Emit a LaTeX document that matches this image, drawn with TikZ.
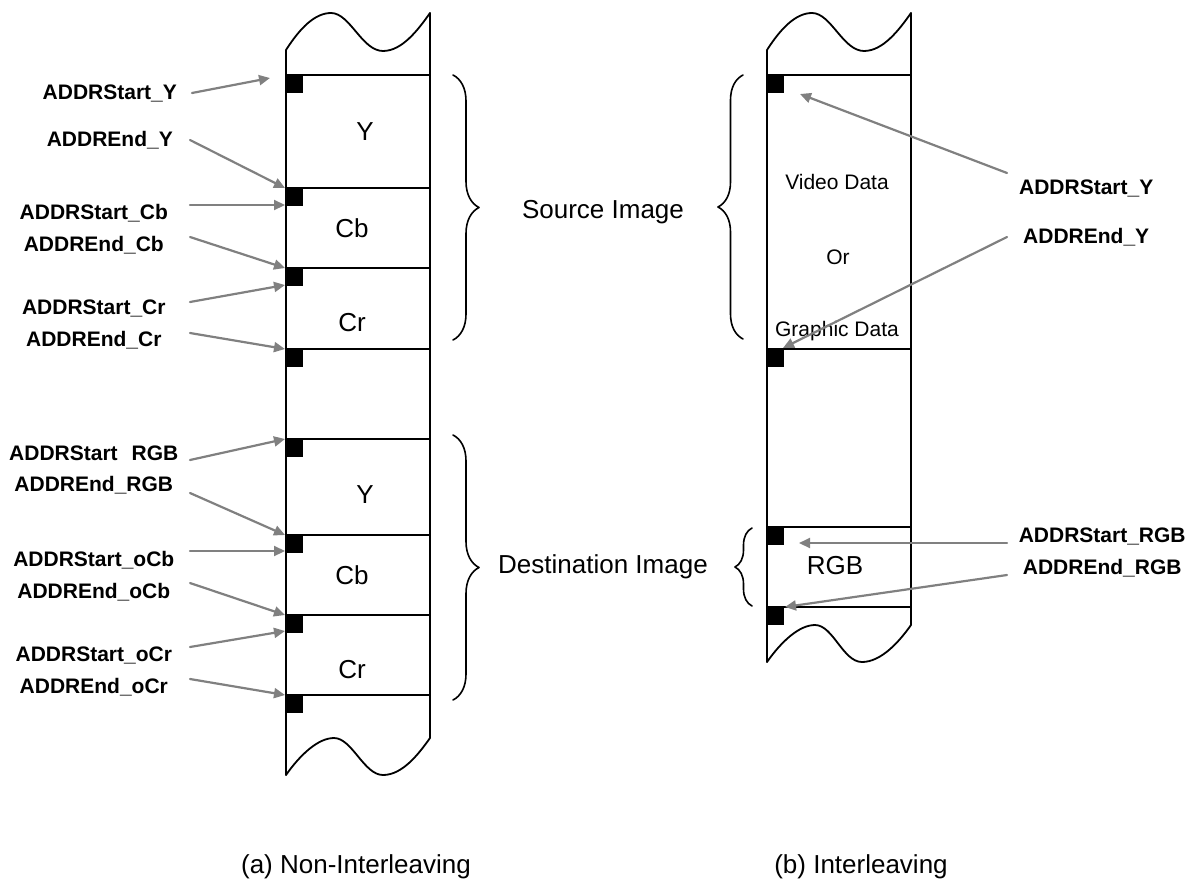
\documentclass[tikz,border=0pt]{standalone}
\usepackage{fontspec}
\setmainfont{Liberation Sans}
\usetikzlibrary{arrows.meta,decorations.pathreplacing}

\begin{document}
\begin{tikzpicture}[x=1pt,y=-1pt,line cap=round,line join=round]
  \definecolor{pointer}{RGB}{128,128,128}
  \tikzset{
    wall/.style={black,line width=1.8pt},
    addr/.style={font=\bfseries\fontsize{21}{25}\selectfont,inner sep=0pt,align=center},
    addrL/.style={addr,anchor=east,text width=#1},
    addrL/.default=192pt,
    addrR/.style={addr,anchor=west,text width=#1},
    field/.style={font=\fontsize{26}{30}\selectfont,inner sep=0pt},
    small field/.style={font=\fontsize{21}{25}\selectfont,inner sep=0pt},
    pointer arrow/.style={draw=pointer,line width=2.2pt,-{Triangle[length=11pt,width=10pt]}},
    curly/.style={decorate,decoration={brace,amplitude=#1},line width=1.6pt}
  }
  \useasboundingbox (0,0) rectangle (1193,883);

  % ---- (a) non-interleaving memory column
  \draw[wall] (286,50) .. controls (300,28) and (315,13) .. (331,13)
    .. controls (350,13) and (362,51) .. (383,51)
    .. controls (402,51) and (418,30) .. (430,13);
  \draw[wall] (286,775) .. controls (300,755) and (318,738) .. (334,738)
    .. controls (352,738) and (364,775) .. (383,775)
    .. controls (402,775) and (418,755) .. (430,738);
  \draw[wall] (286,50) -- (286,775);
  \draw[wall] (430,13) -- (430,738);
  \foreach \y in {75,188,268,349,439,535,615,695} {
    \draw[wall] (286,\y) -- (430,\y);
    \fill[black] (286,\y) rectangle ++(17,18);
  }
  \node[field] (y1) at (365,132) {Y};
  \node[field] (cb1) at (352,228) {Cb};
  \node[field] (cr1) at (352,323) {Cr};
  \node[field] (y2) at (365,495) {Y};
  \node[field] (cb2) at (352,575) {Cb};
  \node[field] (cr2) at (352,670) {Cr};

  % ---- (b) interleaving memory column
  \draw[wall] (767,50) .. controls (781,28) and (796,13) .. (812,13)
    .. controls (831,13) and (843,51) .. (864,51)
    .. controls (883,51) and (899,30) .. (911,13);
  \draw[wall] (767,662) .. controls (781,642) and (799,625) .. (815,625)
    .. controls (833,625) and (843,662) .. (862,662)
    .. controls (881,662) and (899,642) .. (911,625);
  \draw[wall] (767,50) -- (767,662);
  \draw[wall] (911,13) -- (911,625);
  \foreach \y in {75,349,527,607} {
    \draw[wall] (767,\y) -- (911,\y);
    \fill[black] (767,\y) rectangle ++(17,18);
  }
  \node[small field] (video) at (837,182) {Video Data};
  \node[small field] (or) at (838,257) {Or};
  \node[small field] (graphic) at (837,331) {Graphic Data};
  \node[field] (rgb) at (835,566) {RGB};

  % braces and group names
  \draw[curly=26pt] (453,75) -- (453,340);
  \draw[curly=26pt] (453,435) -- (453,700);
  \draw[curly=25pt] (743,339) -- (743,75);
  \draw[curly=17pt] (752,606) -- (752,528);
  \node[field] (src) at (603,212) {Source Image};
  \node[field] (dst) at (603,567) {Destination Image};

  % arrow targets
  \coordinate (tSY) at (270,78);
  \coordinate (tEY) at (285,188);
  \coordinate (tSCb) at (285,205);
  \coordinate (tECb) at (285,268);
  \coordinate (tSCr) at (285,285);
  \coordinate (tECr) at (285,349);
  \coordinate (tSRGB) at (285,439);
  \coordinate (tERGB) at (285,535);
  \coordinate (tSoCb) at (285,551);
  \coordinate (tEoCb) at (285,615);
  \coordinate (tSoCr) at (285,631);
  \coordinate (tEoCr) at (285,695);
  \coordinate (tSYb) at (800,94);
  \coordinate (tEYb) at (783,348);
  \coordinate (tSRGBb) at (799,543);
  \coordinate (tERGBb) at (785,607);

  % address labels, left
  \node[addrL=164pt] (sY) at (192,93) {ADDRStart\_Y};
  \node[addrL=160pt] (eY) at (190,140) {ADDREnd\_Y};
  \node[addrL] (sCb) at (190,213) {ADDRStart\_Cb};
  \node[addrL] (eCb) at (190,245) {ADDREnd\_Cb};
  \node[addrL] (sCr) at (190,308) {ADDRStart\_Cr};
  \node[addrL] (eCr) at (190,340) {ADDREnd\_Cr};
  \node[addrL] (sRGB) at (190,453) {ADDRStart\ \ RGB};
  \node[addrL] (eRGB) at (190,485) {ADDREnd\_RGB};
  \node[addrL] (soCb) at (190,560) {ADDRStart\_oCb};
  \node[addrL] (eoCb) at (190,592) {ADDREnd\_oCb};
  \node[addrL] (soCr) at (190,655) {ADDRStart\_oCr};
  \node[addrL] (eoCr) at (190,687) {ADDREnd\_oCr};

  % address labels, right
  \node[addrR=158pt] (sYb) at (1007,188) {ADDRStart\_Y};
  \node[addrR=158pt] (eYb) at (1007,237) {ADDREnd\_Y};
  \node[addrR=190pt] (sRGBb) at (1007,536) {ADDRStart\_RGB};
  \node[addrR=190pt] (eRGBb) at (1007,568) {ADDREnd\_RGB};

  % pointers
  \draw[pointer arrow] (sY.east) -- (tSY);
  \draw[pointer arrow] (eY.east) -- (tEY);
  \draw[pointer arrow] ([yshift=8pt]sCb.east) -- (tSCb);
  \draw[pointer arrow] ([yshift=8pt]eCb.east) -- (tECb);
  \draw[pointer arrow] ([yshift=6pt]sCr.east) -- (tSCr);
  \draw[pointer arrow] ([yshift=7pt]eCr.east) -- (tECr);
  \draw[pointer arrow] ([yshift=-7pt]sRGB.east) -- (tSRGB);
  \draw[pointer arrow] ([yshift=-8pt]eRGB.east) -- (tERGB);
  \draw[pointer arrow] ([yshift=9pt]soCb.east) -- (tSoCb);
  \draw[pointer arrow] ([yshift=9pt]eoCb.east) -- (tEoCb);
  \draw[pointer arrow] ([yshift=8pt]soCr.east) -- (tSoCr);
  \draw[pointer arrow] ([yshift=8pt]eoCr.east) -- (tEoCr);
  \draw[pointer arrow] ([yshift=15pt]sYb.west) -- (tSYb);
  \draw[pointer arrow] (eYb.west) -- (tEYb);
  \draw[pointer arrow] ([yshift=-7pt]sRGBb.west) -- (tSRGBb);
  \draw[pointer arrow] ([yshift=-7pt]eRGBb.west) -- (tERGBb);

  % captions
  \node[field] (capa) at (356,867) {(a) Non-Interleaving};
  \node[field] (capb) at (861,867) {(b) Interleaving};
\end{tikzpicture}
\end{document}
